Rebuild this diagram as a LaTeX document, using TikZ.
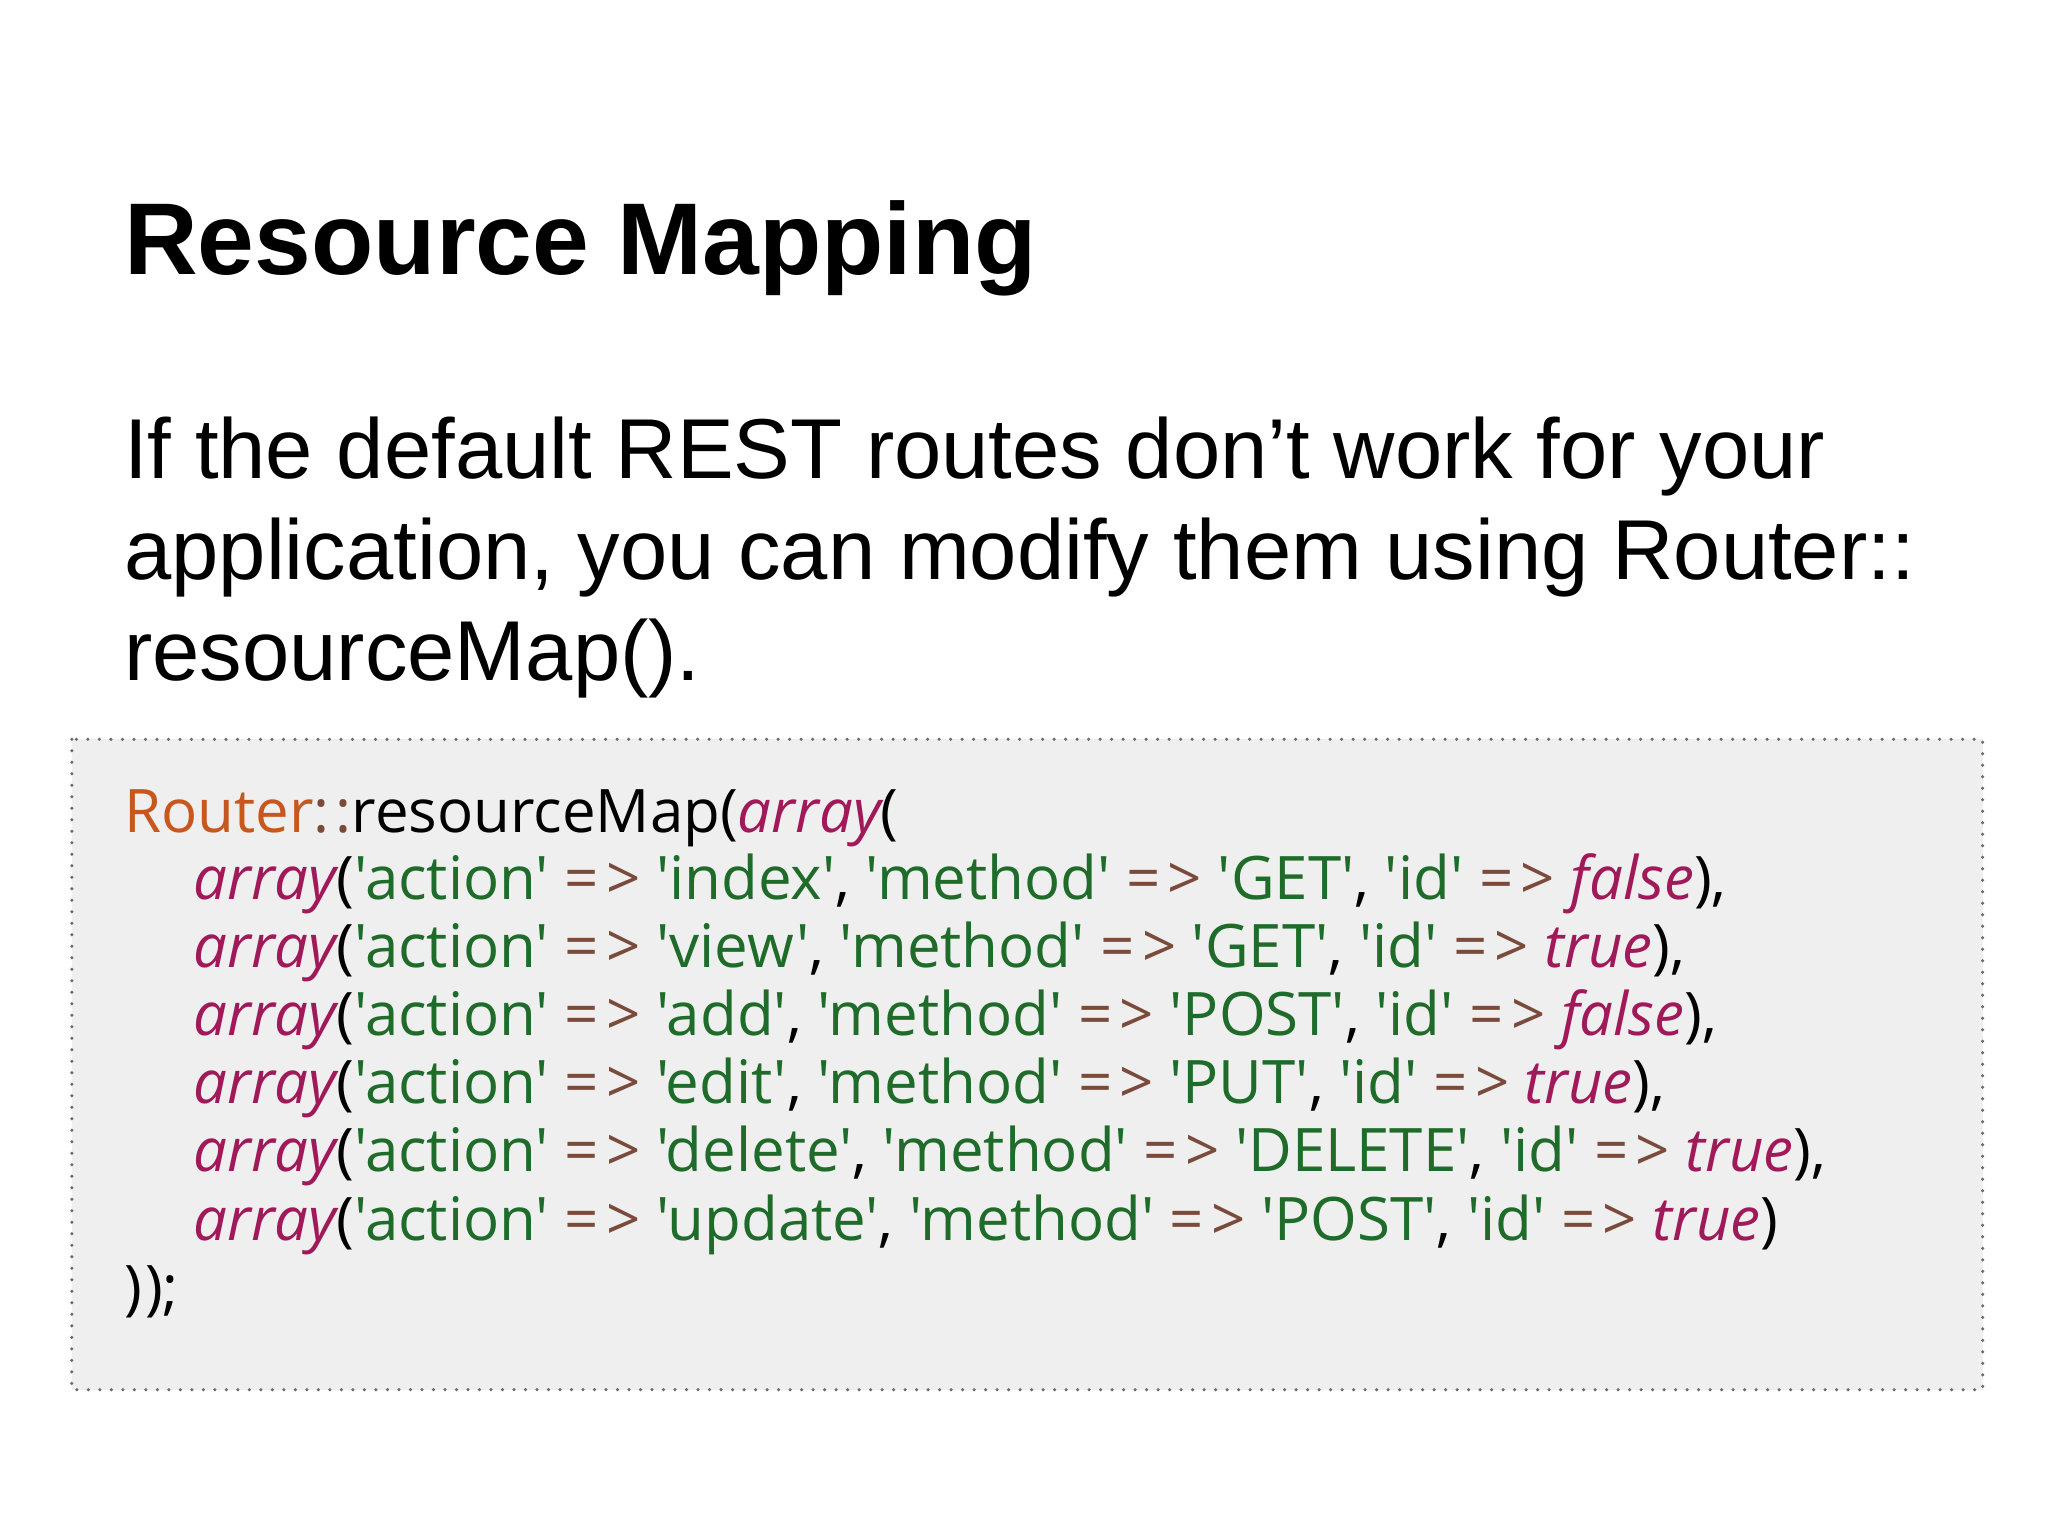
\documentclass[tikz,border=0pt]{standalone}
\usepackage{fontspec}
\setmainfont{Liberation Sans}
\newfontfamily\codefont{Open Sans}[Scale=1]
\definecolor{rt}{HTML}{C8571E}
\definecolor{op}{HTML}{7A4A3A}
\definecolor{st}{HTML}{1E6B2A}
\definecolor{kw}{HTML}{A01A5A}
\definecolor{bx}{HTML}{EFEFEF}
\newcommand{\A}{{\color{kw}\itshape array}}
\newcommand{\Sg}[1]{{\color{st}'#1'}}
\newcommand{\Ar}{{\color{op}=\kern0.12em>}}
\newcommand{\Kw}[1]{{\color{kw}\itshape #1}}
\tikzset{x=1.306pt,y=-1.306pt,
 codeln/.style={anchor=base west,inner sep=0,font=\codefont\fontsize{60}{68}\selectfont},
 bodyln/.style={anchor=base west,inner sep=0,font=\fontsize{85}{95}\selectfont}}
\begin{document}
\begin{tikzpicture}
\fill[white] (0,0) rectangle (1568,1176);
\useasboundingbox (0,0) rectangle (1568,1176);
\fill[bx] (55,566) rectangle (1518,1064);
\draw[draw=gray!85!black,line width=3.5pt,line cap=round,dash pattern=on 0pt off 11.5pt] (55,566) rectangle (1518,1064);
\node[anchor=base west,inner sep=0,font=\bfseries\fontsize{102}{112}\selectfont] (title) at (95,210) {Resource Mapping};
\node[bodyln] (b1) at (95,366) {If the default REST routes don’t work for your};
\node[bodyln] (b2) at (95,444) {application, you can modify them using Router::};
\node[bodyln] (b3) at (95,521) {resourceMap().};
\node[codeln] (c0) at (95,637) {{\color{rt}Router}{\color{op}:\kern0.1em:}resourceMap(\A(};
\node[codeln] (c1) at (148,689) {\A(\Sg{action} \Ar{} \Sg{index}, \Sg{method} \Ar{} \Sg{GET}, \Sg{id} \Ar{} \Kw{false}),};
\node[codeln] (c2) at (148,741) {\A(\Sg{action} \Ar{} \Sg{view}, \Sg{method} \Ar{} \Sg{GET}, \Sg{id} \Ar{} \Kw{true}),};
\node[codeln] (c3) at (148,793) {\A(\Sg{action} \Ar{} \Sg{add}, \Sg{method} \Ar{} \Sg{POST}, \Sg{id} \Ar{} \Kw{false}),};
\node[codeln] (c4) at (148,845) {\A(\Sg{action} \Ar{} \Sg{edit}, \Sg{method} \Ar{} \Sg{PUT}, \Sg{id} \Ar{} \Kw{true}),};
\node[codeln] (c5) at (148,897) {\A(\Sg{action} \Ar{} \Sg{delete}, \Sg{method} \Ar{} \Sg{DELETE}, \Sg{id} \Ar{} \Kw{true}),};
\node[codeln] (c6) at (148,950) {\A(\Sg{action} \Ar{} \Sg{update}, \Sg{method} \Ar{} \Sg{POST}, \Sg{id} \Ar{} \Kw{true})};
\node[codeln] (c7) at (95,1002) {)\kern0.05em);};
\end{tikzpicture}
\end{document}
